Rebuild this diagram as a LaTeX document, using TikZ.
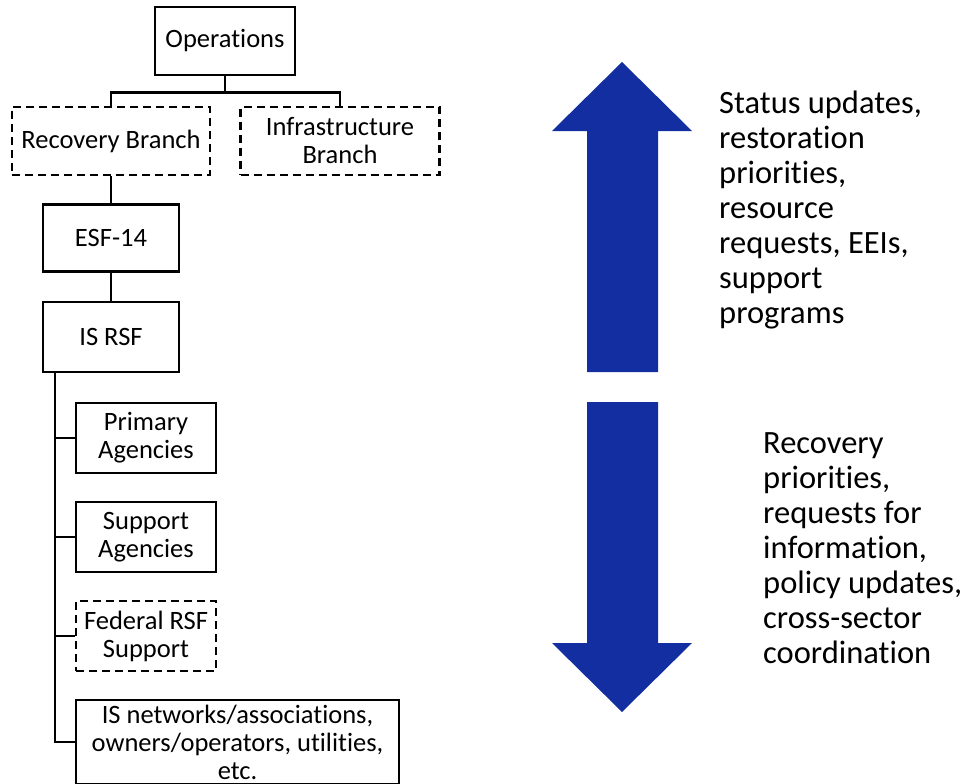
\documentclass[tikz,border=0pt]{standalone}
\usepackage{fontspec}
\setmainfont{Carlito}[Ligatures={NoCommon,NoContextual,NoRequired}]
\usepackage{tikz}

\definecolor{arrowblue}{RGB}{18,46,160}

\tikzset{
  orgbox/.style={draw, line width=2.4pt, inner sep=0pt, align=center,
    font=\fontsize{26.5}{28}\selectfont},
  dashbox/.style={orgbox, dash pattern=on 8pt off 5pt},
  link/.style={line width=2.8pt},
  flowtext/.style={anchor=base west, inner sep=0pt, align=left,
    font=\fontsize{32.5}{35}\selectfont}
}

\begin{document}
\begin{tikzpicture}[x=1pt, y=-1pt]
  \useasboundingbox (0,0) rectangle (962,784);

  % chart boxes
  \node[orgbox, minimum width=140pt, minimum height=68pt] (ops) at (225,41) {Operations};
  \node[dashbox, minimum width=198pt, minimum height=68pt] (recov) at (111,141) {Recovery Branch};
  \node[dashbox, minimum width=199pt, minimum height=68pt] (infra) at (340,141) {Infrastructure\\Branch};
  \node[orgbox, minimum width=136pt, minimum height=67pt] (esf) at (111,238) {ESF-14};
  \node[orgbox, minimum width=136pt, minimum height=70pt] (isrsf) at (111,337) {IS RSF};
  \node[orgbox, minimum width=140pt, minimum height=70pt] (prim) at (146,438) {Primary\\Agencies};
  \node[orgbox, minimum width=140pt, minimum height=70pt] (supp) at (146,537) {Support\\Agencies};
  \node[dashbox, minimum width=140pt, minimum height=70pt] (fed) at (146,636) {Federal RSF\\Support};
  \node[orgbox, minimum width=323pt, minimum height=84pt] (isnet) at (237.5,742)
    {IS networks/associations,\\owners/operators, utilities,\\etc.};

  % connectors
  \draw[link] (ops.south) -- ++(0,16) coordinate (fork);
  \draw[link] (recov.north) |- (fork) -| (infra.north);
  \draw[link] (recov.south) -- (esf.north);
  \draw[link] (esf.south) -- (isrsf.south |- isrsf.north);
  \coordinate (trunk) at (55,372);
  \draw[link] (trunk) |- (isnet.west);
  \foreach \n in {prim,supp,fed}
    \draw[link] (trunk |- \n.west) -- (\n.west);

  % information flow arrows
  \fill[arrowblue] (622,62) -- (692,131) -- (658,131) -- (658,372) -- (587,372)
    -- (587,131) -- (552,131) -- cycle;
  \fill[arrowblue] (587,402) -- (658,402) -- (658,643) -- (692,643) -- (622,712)
    -- (552,643) -- (587,643) -- cycle;

  % base anchor sits on the last line
  \node[flowtext] (uptext) at (719,323) {Status updates,\\restoration\\priorities,\\resource\\requests, EEIs,\\support\\programs};
  \node[flowtext] (downtext) at (763,663) {Recovery\\priorities,\\requests for\\information,\\policy updates,\\cross-sector\\coordination};
\end{tikzpicture}
\end{document}
